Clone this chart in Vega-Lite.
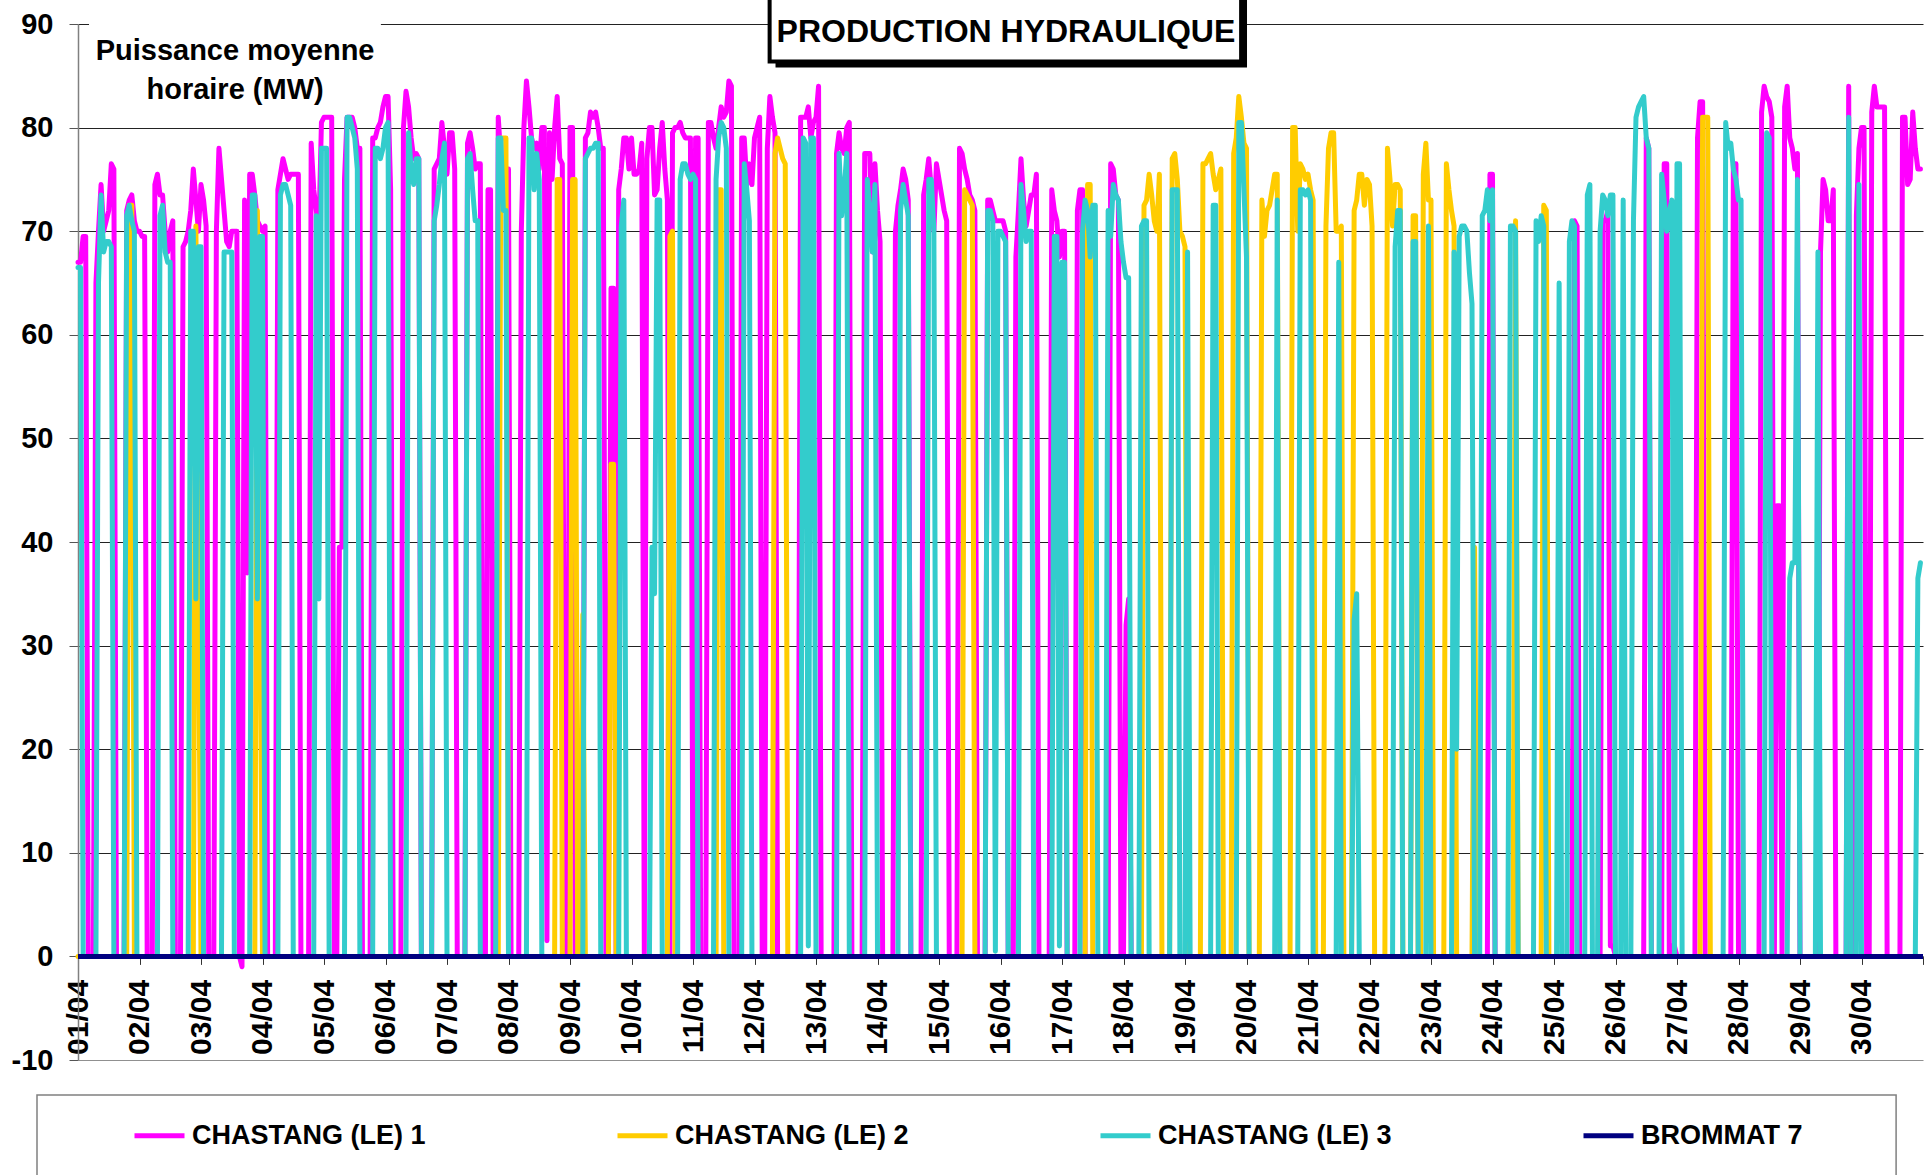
{
"$schema":"https://vega.github.io/schema/vega-lite/v6.json",
"width":1845,"height":1036,
"autosize":{"type":"none"},
"padding":{"left":78,"top":24,"right":7,"bottom":115},
"background":"#ffffff",
"config":{"font":"Liberation Sans","view":{"stroke":null}},
"datasets":{
"c1":[{"h":0,"v":67},{"h":1,"v":67},{"h":2,"v":69.5},{"h":3,"v":69.5},{"h":4,"v":0},
{"h":6,"v":0},{"h":7,"v":65},{"h":8,"v":70},{"h":9,"v":74.5},{"h":10,"v":70},{"h":11,"v":71},{"h":12,"v":72},{"h":13,"v":76.5},{"h":14,"v":76},{"h":15,"v":0},
{"h":18,"v":0},{"h":19,"v":72},{"h":20,"v":73},{"h":21,"v":73.5},{"h":22,"v":71},{"h":23,"v":70},{"h":24,"v":70},{"h":25,"v":69.5},{"h":26,"v":69.5},{"h":27,"v":0},
{"h":29,"v":0},{"h":30,"v":74.5},{"h":31,"v":75.5},{"h":32,"v":73.5},{"h":33,"v":73.5},{"h":34,"v":70},{"h":35,"v":68},{"h":36,"v":70},{"h":37,"v":71},{"h":38,"v":0},
{"h":40,"v":0},{"h":41,"v":68.5},{"h":42,"v":69},{"h":43,"v":70},{"h":44,"v":72},{"h":45,"v":76},{"h":46,"v":73},{"h":47,"v":70},{"h":48,"v":74.5},{"h":49,"v":73},{"h":50,"v":70.5},{"h":51,"v":0},
{"h":53,"v":0},{"h":54,"v":70},{"h":55,"v":78},{"h":56,"v":75},{"h":57,"v":72},{"h":58,"v":69},{"h":59,"v":68.5},{"h":60,"v":70},{"h":61,"v":70},{"h":62,"v":70},{"h":63,"v":0},{"h":64,"v":-1},{"h":65,"v":73},{"h":66,"v":37},{"h":67,"v":75.5},{"h":68,"v":75.5},{"h":69,"v":73.5},{"h":70,"v":71},{"h":71,"v":70.5},{"h":72,"v":70},{"h":73,"v":70.5},{"h":74,"v":0},
{"h":77,"v":0},{"h":78,"v":74},{"h":79,"v":75.5},{"h":80,"v":77},{"h":81,"v":76},{"h":82,"v":75},{"h":83,"v":75.5},{"h":84,"v":75.5},{"h":85,"v":75.5},{"h":86,"v":75.5},{"h":87,"v":0},
{"h":90,"v":0},{"h":91,"v":78.5},{"h":92,"v":74},{"h":93,"v":72},{"h":94,"v":70},{"h":95,"v":80.5},{"h":96,"v":81},{"h":97,"v":81},{"h":98,"v":81},{"h":99,"v":81},{"h":100,"v":0},
{"h":101,"v":0},{"h":102,"v":39.5},{"h":103,"v":39.5},{"h":104,"v":75},{"h":105,"v":81},{"h":106,"v":81},{"h":107,"v":81},{"h":108,"v":80},{"h":109,"v":78},{"h":110,"v":78},{"h":111,"v":0},
{"h":114,"v":0},{"h":115,"v":79},{"h":116,"v":79},{"h":117,"v":80},{"h":118,"v":80.5},{"h":119,"v":82},{"h":120,"v":83},{"h":121,"v":83},{"h":122,"v":74},{"h":123,"v":0},
{"h":126,"v":0},{"h":127,"v":80},{"h":128,"v":83.5},{"h":129,"v":82},{"h":130,"v":79},{"h":131,"v":77},{"h":132,"v":77.5},{"h":133,"v":77},{"h":134,"v":0},
{"h":138,"v":0},{"h":139,"v":76},{"h":140,"v":76.5},{"h":141,"v":77},{"h":142,"v":80.5},{"h":143,"v":78},{"h":144,"v":75.5},{"h":145,"v":79.5},{"h":146,"v":79.5},{"h":147,"v":76},{"h":148,"v":0},
{"h":151,"v":0},{"h":152,"v":78.5},{"h":153,"v":79.5},{"h":154,"v":78},{"h":155,"v":76},{"h":156,"v":76.5},{"h":157,"v":76.5},{"h":158,"v":0},
{"h":159,"v":0},{"h":160,"v":74},{"h":161,"v":74},{"h":162,"v":0},
{"h":163,"v":0},{"h":164,"v":81},{"h":165,"v":77},{"h":166,"v":75},{"h":167,"v":76},{"h":168,"v":76},{"h":169,"v":0},
{"h":172,"v":0},{"h":173,"v":70},{"h":174,"v":80},{"h":175,"v":84.5},{"h":176,"v":82},{"h":177,"v":79},{"h":178,"v":78},{"h":179,"v":78.5},{"h":180,"v":76},{"h":181,"v":80},{"h":182,"v":80},{"h":183,"v":1.5},{"h":184,"v":79.5},{"h":185,"v":75},{"h":186,"v":80},{"h":187,"v":83},{"h":188,"v":77},{"h":189,"v":76.5},{"h":190,"v":0},
{"h":191,"v":0},{"h":192,"v":80},{"h":193,"v":80},{"h":194,"v":0},
{"h":197,"v":0},{"h":198,"v":79},{"h":199,"v":79.5},{"h":200,"v":81.5},{"h":201,"v":81},{"h":202,"v":81.5},{"h":203,"v":80},{"h":204,"v":78},{"h":205,"v":78},{"h":206,"v":0},
{"h":207,"v":0},{"h":208,"v":64.5},{"h":209,"v":64.5},{"h":210,"v":0},{"h":211,"v":74},{"h":212,"v":76},{"h":213,"v":79},{"h":214,"v":79},{"h":215,"v":76},{"h":216,"v":79},{"h":217,"v":75.5},{"h":218,"v":75.5},{"h":219,"v":76},{"h":220,"v":78.5},{"h":221,"v":0},
{"h":222,"v":77},{"h":223,"v":80},{"h":224,"v":80},{"h":225,"v":73.5},{"h":226,"v":74},{"h":227,"v":78},{"h":228,"v":80.5},{"h":229,"v":76},{"h":230,"v":73},{"h":231,"v":0},{"h":232,"v":79.5},{"h":233,"v":80},{"h":234,"v":80},{"h":235,"v":80.5},{"h":236,"v":79.5},{"h":237,"v":79},{"h":238,"v":79},{"h":239,"v":79},{"h":240,"v":0},{"h":241,"v":79},{"h":242,"v":79},{"h":243,"v":0},
{"h":245,"v":0},{"h":246,"v":80.5},{"h":247,"v":80.5},{"h":248,"v":79},{"h":249,"v":78},{"h":250,"v":80},{"h":251,"v":82},{"h":252,"v":81},{"h":253,"v":81.5},{"h":254,"v":84.5},{"h":255,"v":84},{"h":256,"v":0},
{"h":258,"v":0},{"h":259,"v":79},{"h":260,"v":79},{"h":261,"v":74.5},{"h":262,"v":76.5},{"h":263,"v":74.5},{"h":264,"v":79},{"h":265,"v":80},{"h":266,"v":81},{"h":267,"v":0},
{"h":268,"v":0},{"h":269,"v":78},{"h":270,"v":83},{"h":271,"v":81},{"h":272,"v":79.5},{"h":273,"v":0},
{"h":281,"v":0},{"h":282,"v":81},{"h":283,"v":81},{"h":284,"v":81},{"h":285,"v":82},{"h":286,"v":79},{"h":287,"v":80.5},{"h":288,"v":81},{"h":289,"v":84},{"h":290,"v":0},
{"h":295,"v":0},{"h":296,"v":77.5},{"h":297,"v":79.5},{"h":298,"v":78},{"h":299,"v":77.5},{"h":300,"v":80},{"h":301,"v":80.5},{"h":302,"v":0},
{"h":306,"v":0},{"h":307,"v":77.5},{"h":308,"v":77.5},{"h":309,"v":77.5},{"h":310,"v":68},{"h":311,"v":76.5},{"h":312,"v":72},{"h":313,"v":69},{"h":314,"v":0},
{"h":318,"v":0},{"h":319,"v":70},{"h":320,"v":72.5},{"h":321,"v":74},{"h":322,"v":76},{"h":323,"v":75},{"h":324,"v":73},{"h":325,"v":0},
{"h":329,"v":0},{"h":330,"v":73.5},{"h":331,"v":75},{"h":332,"v":77},{"h":333,"v":74},{"h":334,"v":70},{"h":335,"v":76.5},{"h":336,"v":75},{"h":337,"v":73.5},{"h":338,"v":72},{"h":339,"v":71},{"h":340,"v":0},
{"h":343,"v":0},{"h":344,"v":78},{"h":345,"v":77.5},{"h":346,"v":76},{"h":347,"v":75},{"h":348,"v":73.5},{"h":349,"v":73},{"h":350,"v":72},{"h":351,"v":0},
{"h":354,"v":0},{"h":355,"v":73},{"h":356,"v":73},{"h":357,"v":72},{"h":358,"v":71},{"h":359,"v":71},{"h":360,"v":71},{"h":361,"v":71},{"h":362,"v":70},{"h":363,"v":0},
{"h":365,"v":0},{"h":366,"v":67.5},{"h":367,"v":72},{"h":368,"v":77},{"h":369,"v":73},{"h":370,"v":70.5},{"h":371,"v":72},{"h":372,"v":73.5},{"h":373,"v":73.5},{"h":374,"v":75.5},{"h":375,"v":0},
{"h":379,"v":0},{"h":380,"v":74},{"h":381,"v":72},{"h":382,"v":71},{"h":383,"v":67.5},{"h":384,"v":70},{"h":385,"v":70},{"h":386,"v":0},
{"h":389,"v":0},{"h":390,"v":72},{"h":391,"v":74},{"h":392,"v":74},{"h":393,"v":0},
{"h":402,"v":0},{"h":403,"v":76.5},{"h":404,"v":76},{"h":405,"v":73.5},{"h":406,"v":73},{"h":407,"v":0},
{"h":408,"v":0},{"h":409,"v":32},{"h":410,"v":34.5},{"h":411,"v":0},
{"h":550,"v":0},{"h":551,"v":75.5},{"h":552,"v":75.5},{"h":553,"v":0},
{"h":583,"v":0},{"h":584,"v":71},{"h":585,"v":70.5},{"h":586,"v":0},
{"h":594,"v":0},{"h":595,"v":71},{"h":596,"v":71},{"h":597,"v":72},{"h":598,"v":1},{"h":599,"v":1},{"h":600,"v":0},
{"h":611,"v":0},{"h":612,"v":79},{"h":613,"v":78},{"h":614,"v":0},
{"h":618,"v":0},{"h":619,"v":76.5},{"h":620,"v":76.5},{"h":621,"v":0},{"h":622,"v":1},{"h":623,"v":1},{"h":624,"v":0},
{"h":631,"v":0},{"h":632,"v":79},{"h":633,"v":82.5},{"h":634,"v":82.5},{"h":635,"v":0},
{"h":645,"v":0},{"h":646,"v":76.5},{"h":647,"v":76.5},{"h":648,"v":0},
{"h":656,"v":0},{"h":657,"v":81.5},{"h":658,"v":84},{"h":659,"v":83},{"h":660,"v":82.5},{"h":661,"v":81},{"h":662,"v":0},{"h":663,"v":43.5},{"h":664,"v":43.5},{"h":665,"v":0},{"h":666,"v":82},{"h":667,"v":84},{"h":668,"v":79},{"h":669,"v":78},{"h":670,"v":76},{"h":671,"v":77.5},{"h":672,"v":0},
{"h":679,"v":0},{"h":680,"v":68},{"h":681,"v":75},{"h":682,"v":74},{"h":683,"v":71},{"h":684,"v":71},{"h":685,"v":74},{"h":686,"v":0},
{"h":690,"v":0},{"h":691,"v":84},{"h":692,"v":0},
{"h":693,"v":0},{"h":694,"v":71.5},{"h":695,"v":78},{"h":696,"v":80},{"h":697,"v":80},{"h":698,"v":0},
{"h":699,"v":0},{"h":700,"v":81.5},{"h":701,"v":84},{"h":702,"v":82},{"h":703,"v":82},{"h":704,"v":82},{"h":705,"v":82},{"h":706,"v":0},
{"h":711,"v":0},{"h":712,"v":81},{"h":713,"v":81},{"h":714,"v":74.5},{"h":715,"v":75},{"h":716,"v":81.5},{"h":717,"v":78},{"h":718,"v":76},{"h":719,"v":76}],
"c2":[{"h":0,"v":0},{"h":19,"v":0},{"h":20,"v":72.5},{"h":21,"v":72.5},{"h":22,"v":0},
{"h":45,"v":0},{"h":46,"v":70.5},{"h":47,"v":35},{"h":48,"v":0},
{"h":69,"v":0},{"h":70,"v":72},{"h":71,"v":35},{"h":72,"v":0},
{"h":164,"v":0},{"h":165,"v":79},{"h":166,"v":79},{"h":167,"v":79},{"h":168,"v":0},
{"h":186,"v":0},{"h":187,"v":75},{"h":188,"v":75},{"h":189,"v":0},
{"h":192,"v":0},{"h":193,"v":75},{"h":194,"v":75},{"h":195,"v":0},
{"h":196,"v":0},{"h":197,"v":33},{"h":198,"v":0},
{"h":207,"v":0},{"h":208,"v":47.5},{"h":209,"v":47.5},{"h":210,"v":0},
{"h":230,"v":0},{"h":231,"v":69.5},{"h":232,"v":70},{"h":233,"v":0},
{"h":249,"v":0},{"h":250,"v":74},{"h":251,"v":74},{"h":252,"v":0},
{"h":271,"v":0},{"h":272,"v":77.5},{"h":273,"v":79},{"h":274,"v":78},{"h":275,"v":77},{"h":276,"v":76.5},{"h":277,"v":0},
{"h":345,"v":0},{"h":346,"v":74},{"h":347,"v":73.5},{"h":348,"v":73},{"h":349,"v":72.5},{"h":350,"v":0},
{"h":393,"v":0},{"h":394,"v":74.5},{"h":395,"v":74.5},{"h":396,"v":0},
{"h":415,"v":0},{"h":416,"v":72.5},{"h":417,"v":73},{"h":418,"v":75.5},{"h":419,"v":73.5},{"h":420,"v":71},{"h":421,"v":70},{"h":422,"v":75.5},{"h":423,"v":0},
{"h":426,"v":0},{"h":427,"v":77},{"h":428,"v":77.5},{"h":429,"v":75},{"h":430,"v":70},{"h":431,"v":69.5},{"h":432,"v":68.5},{"h":433,"v":0},
{"h":438,"v":0},{"h":439,"v":76.5},{"h":440,"v":76.5},{"h":441,"v":77},{"h":442,"v":77.5},{"h":443,"v":75.5},{"h":444,"v":74},{"h":445,"v":75},{"h":446,"v":76},{"h":447,"v":0},
{"h":450,"v":0},{"h":451,"v":77.5},{"h":452,"v":79},{"h":453,"v":83},{"h":454,"v":81},{"h":455,"v":78.5},{"h":456,"v":78},{"h":457,"v":0},
{"h":461,"v":0},{"h":462,"v":73},{"h":463,"v":69.5},{"h":464,"v":72},{"h":465,"v":72.5},{"h":466,"v":74},{"h":467,"v":75.5},{"h":468,"v":75.5},{"h":469,"v":0},
{"h":473,"v":0},{"h":474,"v":80},{"h":475,"v":80},{"h":476,"v":70},{"h":477,"v":76.5},{"h":478,"v":76},{"h":479,"v":75},{"h":480,"v":75.5},{"h":481,"v":74},{"h":482,"v":73},{"h":483,"v":0},
{"h":486,"v":0},{"h":487,"v":70.5},{"h":488,"v":78},{"h":489,"v":79.5},{"h":490,"v":79.5},{"h":491,"v":70},{"h":492,"v":70},{"h":493,"v":70.5},{"h":494,"v":0},
{"h":497,"v":0},{"h":498,"v":72},{"h":499,"v":73},{"h":500,"v":75.5},{"h":501,"v":75.5},{"h":502,"v":72.5},{"h":503,"v":75},{"h":504,"v":74.5},{"h":505,"v":70.5},{"h":506,"v":0},
{"h":510,"v":0},{"h":511,"v":78},{"h":512,"v":75},{"h":513,"v":70.5},{"h":514,"v":74.5},{"h":515,"v":74.5},{"h":516,"v":74},{"h":517,"v":0},
{"h":520,"v":0},{"h":521,"v":71.5},{"h":522,"v":71.5},{"h":523,"v":0},
{"h":524,"v":0},{"h":525,"v":75.5},{"h":526,"v":78.5},{"h":527,"v":73},{"h":528,"v":73},{"h":529,"v":0},
{"h":533,"v":0},{"h":534,"v":76.5},{"h":535,"v":74},{"h":536,"v":72},{"h":537,"v":70.5},{"h":538,"v":0},
{"h":544,"v":0},{"h":545,"v":39.5},{"h":546,"v":0},
{"h":560,"v":0},{"h":561,"v":71},{"h":562,"v":0},
{"h":571,"v":0},{"h":572,"v":72.5},{"h":573,"v":72},{"h":574,"v":0},
{"h":633,"v":0},{"h":634,"v":81},{"h":635,"v":81},{"h":636,"v":81},{"h":637,"v":0},
{"h":719,"v":0}],
"c3":[{"h":0,"v":66.5},{"h":1,"v":66.5},{"h":2,"v":0},
{"h":7,"v":0},{"h":8,"v":65},{"h":9,"v":73.5},{"h":10,"v":68},{"h":11,"v":69},{"h":12,"v":69},{"h":13,"v":68.5},{"h":14,"v":0},
{"h":18,"v":0},{"h":19,"v":71.5},{"h":20,"v":72.5},{"h":21,"v":71},{"h":22,"v":70},{"h":23,"v":0},
{"h":31,"v":0},{"h":32,"v":71.5},{"h":33,"v":72.5},{"h":34,"v":68},{"h":35,"v":67},{"h":36,"v":67},{"h":37,"v":0},
{"h":43,"v":0},{"h":44,"v":70},{"h":45,"v":70},{"h":46,"v":34.5},{"h":47,"v":68.5},{"h":48,"v":68.5},{"h":49,"v":0},
{"h":56,"v":0},{"h":57,"v":68},{"h":58,"v":68},{"h":59,"v":68},{"h":60,"v":68},{"h":61,"v":0},
{"h":67,"v":0},{"h":68,"v":73.5},{"h":69,"v":73.5},{"h":70,"v":34.5},{"h":71,"v":69.5},{"h":72,"v":69.5},{"h":73,"v":0},
{"h":78,"v":0},{"h":79,"v":73.5},{"h":80,"v":74.5},{"h":81,"v":74.5},{"h":82,"v":73.5},{"h":83,"v":72.5},{"h":84,"v":0},
{"h":92,"v":0},{"h":93,"v":71.5},{"h":94,"v":34.5},{"h":95,"v":78},{"h":96,"v":78},{"h":97,"v":78},{"h":98,"v":0},
{"h":104,"v":0},{"h":105,"v":81},{"h":106,"v":81},{"h":107,"v":80},{"h":108,"v":79},{"h":109,"v":76},{"h":110,"v":0},
{"h":115,"v":0},{"h":116,"v":78},{"h":117,"v":78},{"h":118,"v":77},{"h":119,"v":78},{"h":120,"v":80},{"h":121,"v":80.5},{"h":122,"v":0},
{"h":128,"v":0},{"h":129,"v":79.5},{"h":130,"v":76},{"h":131,"v":74.5},{"h":132,"v":77},{"h":133,"v":77},{"h":134,"v":0},
{"h":138,"v":0},{"h":139,"v":71},{"h":140,"v":72.5},{"h":141,"v":74.5},{"h":142,"v":77},{"h":143,"v":78.5},{"h":144,"v":0},
{"h":151,"v":0},{"h":152,"v":77},{"h":153,"v":77.5},{"h":154,"v":74},{"h":155,"v":71},{"h":156,"v":71},{"h":157,"v":0},
{"h":163,"v":0},{"h":164,"v":79},{"h":165,"v":79},{"h":166,"v":72},{"h":167,"v":72},{"h":168,"v":0},
{"h":175,"v":0},{"h":176,"v":79},{"h":177,"v":79},{"h":178,"v":74},{"h":179,"v":77.5},{"h":180,"v":75},{"h":181,"v":0},
{"h":197,"v":0},{"h":198,"v":77},{"h":199,"v":77.5},{"h":200,"v":78},{"h":201,"v":78},{"h":202,"v":78.5},{"h":203,"v":78.5},{"h":204,"v":0},
{"h":211,"v":0},{"h":212,"v":70.5},{"h":213,"v":73},{"h":214,"v":0},
{"h":223,"v":0},{"h":224,"v":39.5},{"h":225,"v":35},{"h":226,"v":73},{"h":227,"v":73},{"h":228,"v":0},
{"h":234,"v":0},{"h":235,"v":75},{"h":236,"v":76.5},{"h":237,"v":76.5},{"h":238,"v":75.5},{"h":239,"v":75},{"h":240,"v":75.5},{"h":241,"v":75},{"h":242,"v":0},
{"h":248,"v":0},{"h":249,"v":75},{"h":250,"v":79},{"h":251,"v":80.5},{"h":252,"v":80},{"h":253,"v":78},{"h":254,"v":0},
{"h":259,"v":0},{"h":260,"v":76.5},{"h":261,"v":74},{"h":262,"v":71},{"h":263,"v":0},
{"h":282,"v":0},{"h":283,"v":79},{"h":284,"v":78.5},{"h":285,"v":1},{"h":286,"v":79},{"h":287,"v":79},{"h":288,"v":0},
{"h":296,"v":0},{"h":297,"v":77.5},{"h":298,"v":71.5},{"h":299,"v":74},{"h":300,"v":77.5},{"h":301,"v":0},
{"h":307,"v":0},{"h":308,"v":75},{"h":309,"v":72},{"h":310,"v":68},{"h":311,"v":74.5},{"h":312,"v":0},
{"h":320,"v":0},{"h":321,"v":72},{"h":322,"v":74.5},{"h":323,"v":73},{"h":324,"v":71.5},{"h":325,"v":0},
{"h":331,"v":0},{"h":332,"v":75},{"h":333,"v":75},{"h":334,"v":70},{"h":335,"v":0},
{"h":354,"v":0},{"h":355,"v":72},{"h":356,"v":72},{"h":357,"v":71},{"h":358,"v":0.5},{"h":359,"v":70},{"h":360,"v":70},{"h":361,"v":69.5},{"h":362,"v":69},{"h":363,"v":0},
{"h":367,"v":0},{"h":368,"v":74.5},{"h":369,"v":72},{"h":370,"v":69},{"h":371,"v":70},{"h":372,"v":70},{"h":373,"v":0},
{"h":380,"v":0},{"h":381,"v":69.5},{"h":382,"v":69.5},{"h":383,"v":1},{"h":384,"v":67},{"h":385,"v":67},{"h":386,"v":0},
{"h":391,"v":0},{"h":392,"v":70},{"h":393,"v":73},{"h":394,"v":72},{"h":395,"v":67.5},{"h":396,"v":72.5},{"h":397,"v":72.5},{"h":398,"v":0},
{"h":401,"v":0},{"h":402,"v":72},{"h":403,"v":69.5},{"h":404,"v":74.5},{"h":405,"v":73.5},{"h":406,"v":73},{"h":407,"v":69},{"h":408,"v":67},{"h":409,"v":65.5},{"h":410,"v":65.5},{"h":411,"v":0},
{"h":414,"v":0},{"h":415,"v":70.5},{"h":416,"v":71},{"h":417,"v":71},{"h":418,"v":0},
{"h":426,"v":0},{"h":427,"v":74},{"h":428,"v":74},{"h":429,"v":74},{"h":430,"v":0},
{"h":432,"v":0},{"h":433,"v":68},{"h":434,"v":0},
{"h":442,"v":0},{"h":443,"v":72.5},{"h":444,"v":72.5},{"h":445,"v":0},
{"h":452,"v":0},{"h":453,"v":80.5},{"h":454,"v":80.5},{"h":455,"v":74},{"h":456,"v":67.5},{"h":457,"v":0},
{"h":467,"v":0},{"h":468,"v":73},{"h":469,"v":0},
{"h":476,"v":0},{"h":477,"v":74},{"h":478,"v":74},{"h":479,"v":73.5},{"h":480,"v":74},{"h":481,"v":73},{"h":482,"v":0},
{"h":491,"v":0},{"h":492,"v":67},{"h":493,"v":0},
{"h":497,"v":0},{"h":498,"v":32.5},{"h":499,"v":35},{"h":500,"v":0},
{"h":513,"v":0},{"h":514,"v":68.5},{"h":515,"v":72},{"h":516,"v":72},{"h":517,"v":0},
{"h":520,"v":0},{"h":521,"v":69},{"h":522,"v":69},{"h":523,"v":0},
{"h":526,"v":0},{"h":527,"v":70.5},{"h":528,"v":0},
{"h":536,"v":0},{"h":537,"v":68},{"h":538,"v":20},{"h":539,"v":69.5},{"h":540,"v":70.5},{"h":541,"v":70.5},{"h":542,"v":70},{"h":543,"v":66},{"h":544,"v":63},{"h":545,"v":0},
{"h":547,"v":0},{"h":548,"v":71.5},{"h":549,"v":72},{"h":550,"v":74},{"h":551,"v":71},{"h":552,"v":74},{"h":553,"v":0},
{"h":558,"v":0},{"h":559,"v":70.5},{"h":560,"v":70.5},{"h":561,"v":70},{"h":562,"v":0},
{"h":568,"v":0},{"h":569,"v":71},{"h":570,"v":69},{"h":571,"v":71.5},{"h":572,"v":70.5},{"h":573,"v":0},
{"h":577,"v":0},{"h":578,"v":65},{"h":579,"v":0},
{"h":581,"v":0},{"h":582,"v":69},{"h":583,"v":71},{"h":584,"v":70.5},{"h":585,"v":0},
{"h":588,"v":0},{"h":589,"v":73.5},{"h":590,"v":74.5},{"h":591,"v":0},
{"h":593,"v":0},{"h":594,"v":70},{"h":595,"v":73.5},{"h":596,"v":73},{"h":597,"v":71.5},{"h":598,"v":73.5},{"h":599,"v":73.5},{"h":600,"v":0},
{"h":602,"v":0},{"h":603,"v":73},{"h":604,"v":0},
{"h":606,"v":0},{"h":607,"v":71},{"h":608,"v":81},{"h":609,"v":82},{"h":610,"v":82.5},{"h":611,"v":83},{"h":612,"v":79},{"h":613,"v":78},{"h":614,"v":0},
{"h":617,"v":0},{"h":618,"v":75.5},{"h":619,"v":73},{"h":620,"v":70},{"h":621,"v":72},{"h":622,"v":73},{"h":623,"v":0},{"h":624,"v":76.5},{"h":625,"v":76.5},{"h":626,"v":0},
{"h":642,"v":0},{"h":643,"v":80.5},{"h":644,"v":78},{"h":645,"v":78.5},{"h":646,"v":76},{"h":647,"v":75},{"h":648,"v":73},{"h":649,"v":73},{"h":650,"v":0},
{"h":658,"v":0},{"h":659,"v":79.5},{"h":660,"v":79},{"h":661,"v":0},
{"h":667,"v":0},{"h":668,"v":36.5},{"h":669,"v":38},{"h":670,"v":38},{"h":671,"v":75},{"h":672,"v":0},
{"h":678,"v":0},{"h":679,"v":68},{"h":680,"v":0},
{"h":690,"v":0},{"h":691,"v":81},{"h":692,"v":0},
{"h":694,"v":0},{"h":695,"v":74.5},{"h":696,"v":0},
{"h":717,"v":0},{"h":718,"v":36.5},{"h":719,"v":38}],
"b7":[{"h":0,"v":0},{"h":720,"v":0}]
},
"layer":[
{"data":{"name":"c1"},
 "mark":{"type":"line","strokeWidth":5,"strokeJoin":"round","strokeCap":"round"},
 "encoding":{
  "x":{"field":"h","type":"quantitative","title":null,"scale":{"domain":[0,720],"nice":false,"zero":false},
   "axis":{"title":null,"values":[0,24,48,72,96,120,144,168,192,216,240,264,288,312,336,360,384,408,432,456,480,504,528,552,576,600,624,648,672,696,720],
    "labelExpr":"datum.value >= 720 ? '' : (datum.value < 216 ? '0' : '') + (floor(datum.value / 24) + 1) + '/04'",
    "labelAngle":270,"labelFont":"Liberation Sans","labelFontSize":30,"labelFontWeight":"bold","labelColor":"#000000","labelPadding":15,
    "tickSize":8,"tickColor":"#333333","domainColor":"#808080","offset":-103.6,"grid":false,"labelOverlap":false,"labelFlush":false,"labelBound":false}},
  "y":{"field":"v","type":"quantitative","title":null,"scale":{"domain":[-10,90],"nice":false,"zero":false},
   "axis":{"title":null,"values":[-10,0,10,20,30,40,50,60,70,80,90],"labelExpr":"'' + datum.value","labelFont":"Liberation Sans","labelFontSize":29,"labelFontWeight":"bold","labelColor":"#000000","labelPadding":16,
    "tickSize":9,"tickColor":"#555555","domainColor":"#808080","domainWidth":1.5,"grid":true,
    "gridColor":{"condition":{"test":"datum.value === -10","value":"#909090"},"value":"#222222"},"gridWidth":1}},
  "color":{"datum":"CHASTANG (LE) 1","type":"nominal",
   "scale":{"domain":["CHASTANG (LE) 1","CHASTANG (LE) 2","CHASTANG (LE) 3","BROMMAT 7"],"range":["#FF00FF","#FFCC00","#33CCCC","#000080"]},
   "legend":{"title":null,"orient":"none","legendX":54,"legendY":1084,"direction":"horizontal","columns":4,"columnPadding":181,
    "symbolType":"stroke","symbolSize":2500,"symbolStrokeWidth":5,"labelFont":"Liberation Sans","labelFontSize":27,"labelFontWeight":"bold","labelColor":"#000000","labelOffset":5,"labelLimit":0,"padding":0}}}},
{"data":{"name":"c2"},
 "mark":{"type":"line","strokeWidth":5,"strokeJoin":"round","strokeCap":"round"},
 "encoding":{"x":{"field":"h","type":"quantitative","title":null,"scale":{"domain":[0,720],"nice":false,"zero":false}},
  "y":{"field":"v","type":"quantitative","title":null,"scale":{"domain":[-10,90],"nice":false,"zero":false}},
  "color":{"datum":"CHASTANG (LE) 2","type":"nominal"}}},
{"data":{"name":"c3"},
 "mark":{"type":"line","strokeWidth":5,"strokeJoin":"round","strokeCap":"round"},
 "encoding":{"x":{"field":"h","type":"quantitative","title":null,"scale":{"domain":[0,720],"nice":false,"zero":false}},
  "y":{"field":"v","type":"quantitative","title":null,"scale":{"domain":[-10,90],"nice":false,"zero":false}},
  "color":{"datum":"CHASTANG (LE) 3","type":"nominal"}}},
{"data":{"name":"b7"},
 "mark":{"type":"line","strokeWidth":5},
 "encoding":{"x":{"field":"h","type":"quantitative","title":null,"scale":{"domain":[0,720],"nice":false,"zero":false}},
  "y":{"field":"v","type":"quantitative","title":null,"scale":{"domain":[-10,90],"nice":false,"zero":false}},
  "color":{"datum":"BROMMAT 7","type":"nominal"}}},
{"data":{"values":[{}]},
 "mark":{"type":"rect","filled":false,"stroke":"#808080","strokeWidth":1.5},
 "encoding":{"x":{"datum":-16,"type":"quantitative","title":null,"scale":{"domain":[0,720],"nice":false,"zero":false}},"x2":{"datum":709.5},
  "y":{"datum":-13.38,"type":"quantitative","title":null,"scale":{"domain":[-10,90],"nice":false,"zero":false}},"y2":{"datum":-22}}},
{"data":{"values":[{}]},
 "mark":{"type":"rect","fill":"#ffffff","stroke":null},
 "encoding":{"x":{"datum":4.3,"type":"quantitative","title":null,"scale":{"domain":[0,720],"nice":false,"zero":false}},"x2":{"datum":118.2},
  "y":{"datum":82.2,"type":"quantitative","title":null,"scale":{"domain":[-10,90],"nice":false,"zero":false}},"y2":{"datum":91}}},
{"data":{"values":[{}]},
 "mark":{"type":"text","text":["Puissance moyenne","horaire (MW)"],"font":"Liberation Sans","fontSize":29,"fontWeight":"bold","color":"#000000","align":"center","baseline":"alphabetic","lineHeight":39.3},
 "encoding":{"x":{"datum":61.3,"type":"quantitative","title":null,"scale":{"domain":[0,720],"nice":false,"zero":false}},
  "y":{"datum":86.53,"type":"quantitative","title":null,"scale":{"domain":[-10,90],"nice":false,"zero":false}}}},
{"data":{"values":[{}]},
 "mark":{"type":"rect","fill":"#000000","stroke":null},
 "encoding":{"x":{"datum":272.2,"type":"quantitative","title":null,"scale":{"domain":[0,720],"nice":false,"zero":false}},"x2":{"datum":456.2},
  "y":{"datum":85.8,"type":"quantitative","title":null,"scale":{"domain":[-10,90],"nice":false,"zero":false}},"y2":{"datum":92.4}}},
{"data":{"values":[{}]},
 "mark":{"type":"rect","fill":"#ffffff","stroke":"#000000","strokeWidth":4},
 "encoding":{"x":{"datum":269.9,"type":"quantitative","title":null,"scale":{"domain":[0,720],"nice":false,"zero":false}},"x2":{"datum":453.9},
  "y":{"datum":86.38,"type":"quantitative","title":null,"scale":{"domain":[-10,90],"nice":false,"zero":false}},"y2":{"datum":93}}},
{"data":{"values":[{}]},
 "mark":{"type":"text","text":"PRODUCTION HYDRAULIQUE","font":"Liberation Sans","fontSize":32,"fontWeight":"bold","color":"#000000","align":"center","baseline":"alphabetic"},
 "encoding":{"x":{"datum":362.1,"type":"quantitative","title":null,"scale":{"domain":[0,720],"nice":false,"zero":false}},
  "y":{"datum":88.29,"type":"quantitative","title":null,"scale":{"domain":[-10,90],"nice":false,"zero":false}}}}
]
}
